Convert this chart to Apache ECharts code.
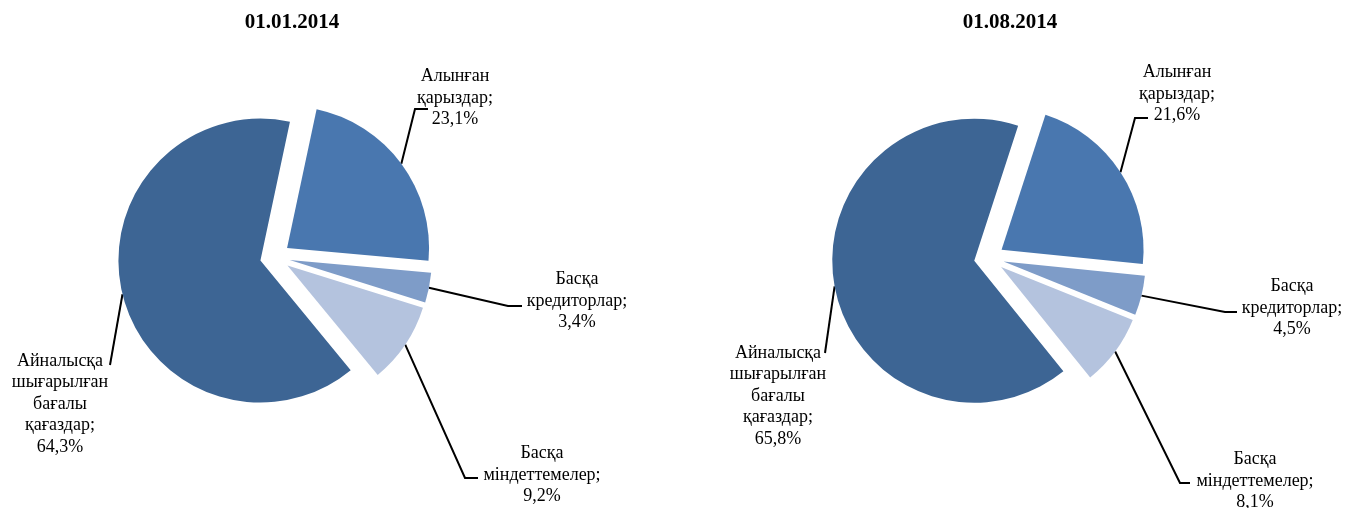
<!DOCTYPE html>
<html><head><meta charset="utf-8">
<script src="https://cdn.jsdelivr.net/npm/echarts@6/dist/echarts.min.js"></script>
<style>html,body{margin:0;padding:0;background:#fff}#c{width:1347px;height:508px}</style>
</head><body><div id="c"></div>
<script>
// ---- data ----
const categories = ['Алынған қарыздар', 'Басқа кредиторлар', 'Басқа міндеттемелер', 'Айналысқа шығарылған бағалы қағаздар'];
const dates = ['01.01.2014', '01.08.2014'];
const valuesJan = [23.1, 3.4, 9.2, 64.3];
const valuesAug = [21.6, 4.5, 8.1, 65.8];

// ---- style / layout ----
const colors = ['#4977AF', '#7E9CC8', '#B4C3DE', '#3D6594'];
const FONT = "'Liberation Serif', 'Times New Roman', serif";
const R = 142, OFF = 15;
const layouts = [
  { center: [275, 257], start: 78, title: 292,
    labels: [
      { x: 455, y: 98,  elbow: [415, 109], end: [428, 109] },
      { x: 577, y: 301, elbow: [508, 306], end: [522, 306] },
      { x: 542, y: 475, elbow: [465, 478], end: [478, 478] },
      { x: 60,  y: 404, elbow: null, end: [110, 365] }
    ] },
  { center: [989, 258], start: 72, title: 1010,
    labels: [
      { x: 1177, y: 94,  elbow: [1135, 118], end: [1148, 118] },
      { x: 1292, y: 308, elbow: [1225, 312], end: [1237, 312] },
      { x: 1255, y: 481, elbow: [1180, 483], end: [1190, 483] },
      { x: 778,  y: 396, elbow: null, end: [825, 353] }
    ] }
];
const seriesValues = [valuesJan, valuesAug];

function edgePoint(si, di) {
  const vals = seriesValues[si];
  const total = vals.reduce((a, b) => a + b, 0);
  let cum = 0;
  for (let k = 0; k < di; k++) cum += vals[k];
  const ang = (layouts[si].start - (cum + vals[di] / 2) / total * 360) * Math.PI / 180;
  const c = layouts[si].center;
  return [c[0] + (R + OFF) * Math.cos(ang), c[1] - (R + OFF) * Math.sin(ang)];
}

const series = [];
seriesValues.forEach((vals, si) => {
  // visible exploded slices
  series.push({
    type: 'pie',
    center: layouts[si].center,
    radius: R,
    startAngle: layouts[si].start,
    clockwise: true,
    selectedMode: 'multiple',
    selectedOffset: OFF,
    emphasis: { disabled: true },
    label: { show: false },
    labelLine: { show: false },
    itemStyle: { borderWidth: 0 },
    data: vals.map((v, i) => ({
      name: categories[i], value: v, selected: true,
      itemStyle: { color: colors[i] }
    }))
  });
  // labels with leader lines (transparent sectors)
  series.push({
    type: 'pie',
    silent: true,
    center: layouts[si].center,
    radius: R,
    startAngle: layouts[si].start,
    clockwise: true,
    avoidLabelOverlap: false,
    emphasis: { disabled: true },
    itemStyle: { color: 'rgba(0,0,0,0)', borderWidth: 0 },
    label: {
      show: true, position: 'outside', color: '#000',
      fontFamily: FONT, fontSize: 18, lineHeight: 21.5, align: 'center',
      formatter: p => p.name.split(' ').join('\n') + ';\n' + p.value.toFixed(1).replace('.', ',') + '%'
    },
    labelLine: { show: true, lineStyle: { color: '#000', width: 2 } },
    labelLayout: function (params) {
      const L = layouts[si].labels[params.dataIndex];
      const s = edgePoint(si, params.dataIndex);
      const pts = L.elbow ? [s, L.elbow, L.end] : [s, L.end, L.end];
      return { x: L.x, y: L.y, align: 'center', verticalAlign: 'middle', labelLinePoints: pts };
    },
    data: vals.map((v, i) => ({ name: categories[i], value: v }))
  });
});

const chart = echarts.init(document.getElementById('c'));
chart.setOption({
  animation: false,
  graphic: dates.map((d, i) => ({
    type: 'text', x: layouts[i].title, y: 23,
    style: { text: d, fontFamily: FONT, fontSize: 21, fontWeight: 'bold', fill: '#000',
             textAlign: 'center', textVerticalAlign: 'middle' }
  })),
  series: series
});
</script></body></html>
